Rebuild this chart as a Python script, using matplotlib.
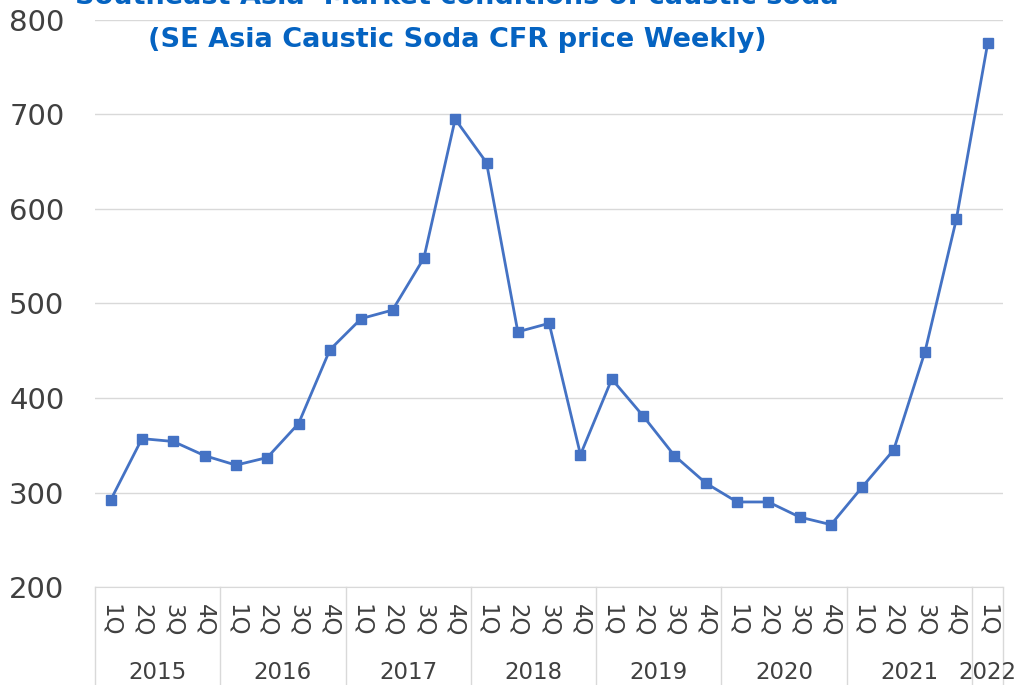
import matplotlib

matplotlib.use("Agg")
import matplotlib.pyplot as plt
import matplotlib.transforms as mtransforms
import numpy as np

plt.rcParams.update({"font.family": ["DejaVu Sans", "sans-serif"]})

# data
years = ["2015", "2016", "2017", "2018", "2019", "2020", "2021", "2022"]
quarters_per_year = [4, 4, 4, 4, 4, 4, 4, 1]
quarter_labels = ["1Q", "2Q", "3Q", "4Q"] * 7 + ["1Q"]
price = [292, 357, 354, 339,
         329, 337, 373, 451,
         484, 493, 548, 695,
         649, 470, 479, 340,
         420, 381, 339, 310,
         290, 290, 274, 266,
         306, 345, 449, 589,
         775]

BLUE = "#4472C4"
TITLE_BLUE = "#0563C1"
TEXT = "#404040"
GRID = "#D9D9D9"

fig = plt.figure(figsize=(10.16, 6.85), dpi=100)
ax = fig.add_axes([0.0935, 0.143, 0.894, 0.828])

x = np.arange(len(price))
ax.plot(x, price, color=BLUE, lw=2.0, marker="s", markersize=6.5,
        markerfacecolor=BLUE, markeredgecolor=BLUE, zorder=3)

ax.set_xlim(-0.5, len(price) - 0.5)
ax.set_ylim(200, 800)
ax.set_yticks(range(200, 801, 100))
ax.yaxis.grid(True, color=GRID, lw=1)
ax.set_axisbelow(True)
for s in ["top", "right", "left"]:
    ax.spines[s].set_visible(False)
ax.spines["bottom"].set_color(GRID)
ax.tick_params(axis="y", length=0, labelsize=21, labelcolor=TEXT, pad=22)

ax.set_xticks(x)
ax.set_xticklabels(quarter_labels, rotation=270, fontsize=16.5, color=TEXT)
ax.tick_params(axis="x", length=0, pad=12)

# year group labels and separators below the axis
trans = mtransforms.blended_transform_factory(ax.transData, ax.transAxes)
edge = -0.5
ax.plot([edge, edge], [0, -0.175], transform=trans, color=GRID, lw=1, clip_on=False)
for yr, n in zip(years, quarters_per_year):
    mid = edge + n / 2
    ax.text(mid, -0.15, yr, transform=trans, ha="center", va="center",
            fontsize=16.5, color=TEXT)
    edge += n
    ax.plot([edge, edge], [0, -0.175], transform=trans, color=GRID, lw=1,
            clip_on=False)

fig.text(0.45, 1.004, "Southeast Asia  Market conditions of caustic soda",
         ha="center", va="center", fontsize=19.5, fontweight="bold", color=TITLE_BLUE)
fig.text(0.45, 0.941, "(SE Asia Caustic Soda CFR price Weekly)",
         ha="center", va="center", fontsize=19.5, fontweight="bold", color=TITLE_BLUE)

fig.savefig("out.png", dpi=100)
